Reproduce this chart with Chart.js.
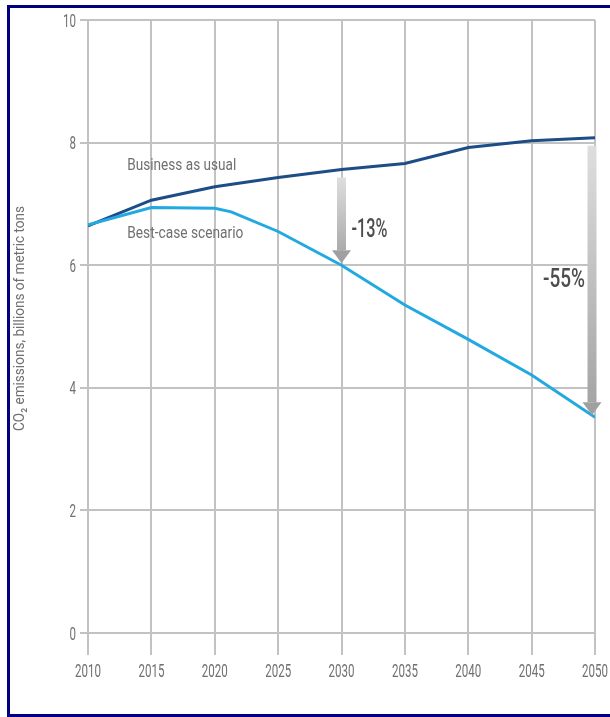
<!DOCTYPE html>
<html>
<head>
<meta charset="utf-8">
<title>CO2 emissions scenarios</title>
<script src="https://cdn.jsdelivr.net/npm/chart.js@4.4.0/dist/chart.umd.min.js"></script>
<style>
  html, body { margin: 0; padding: 0; background: #fff; }
  #wrap { position: relative; width: 610px; height: 717px; overflow: hidden; background: #fff; }
  #wrap canvas { position: absolute; left: 0; top: 0; }
  #frame {
    position: absolute; left: 7px; top: 5px; right: 0; bottom: 0;
    border-left: 3px solid #000080; border-top: 3px solid #000080; border-bottom: 3px solid #000080;
    pointer-events: none;
  }
</style>
</head>
<body>
<div id="wrap">
  <canvas id="chart" width="610" height="717"></canvas>
  <div id="frame"></div>
</div>
<script>
// Emissions in billions of metric tons of CO2
const years = [2010, 2015, 2020, 2025, 2030, 2035, 2040, 2045, 2050];
const businessAsUsual = [6.64, 7.06, 7.28, 7.43, 7.56, 7.66, 7.92, 8.03, 8.08];
const bestCaseYears = [2010, 2015, 2020, 2021.3, 2025, 2030, 2035, 2040, 2045, 2050];
const bestCase = [6.66, 6.94, 6.93, 6.87, 6.55, 6.0, 5.35, 4.79, 4.21, 3.52];
const yearTicks = [2010, 2015, 2020, 2025, 2030, 2035, 2040, 2045, 2050];
const emissionTicks = [0, 2, 4, 6, 8, 10];
const seriesNames = ['Business as usual', 'Best-case scenario'];
const reductionYears = [2030, 2050];
const reductionLabels = ['-13%', '-55%'];
const axisTitle = 'CO\u2082 emissions, billions of metric tons';

// Narrow grotesque look: Roboto squeezed with fillText's maxWidth
const FONT = "Roboto, 'DejaVu Sans Condensed', sans-serif";
const DIGIT_W = 6.5;
const DARK_BLUE = '#1d4d86';
const LIGHT_BLUE = '#22a9e2';
const GRID = '#c2c2c2';
const TEXT = '#707070';

function toPoints(xs, ys) {
  return xs.map((x, i) => ({ x: x, y: ys[i] }));
}

function narrowText(ctx, text, x, y, maxW) {
  ctx.fillText(text, x, y, maxW);
}

function drawArrow(ctx, cx, top, tip) {
  const shaftHalf = 4.5, headHalf = 9.5, headLen = 13;
  const headTop = tip - headLen;
  const g = ctx.createLinearGradient(0, top, 0, tip);
  g.addColorStop(0, '#dedede');
  g.addColorStop(1, '#a2a2a2');
  ctx.fillStyle = g;
  ctx.fillRect(cx - shaftHalf, top, shaftHalf * 2, headTop - top);
  ctx.beginPath();
  ctx.moveTo(cx - headHalf, headTop);
  ctx.lineTo(cx + headHalf, headTop);
  ctx.lineTo(cx, tip);
  ctx.closePath();
  ctx.fillStyle = '#a0a0a0';
  ctx.fill();
}

// Axis labels drawn condensed at the scales' own tick positions
const axisText = {
  id: 'axisText',
  afterDraw(chart) {
    const { ctx } = chart;
    const xs = chart.scales.x, ys = chart.scales.y;
    ctx.save();
    ctx.fillStyle = TEXT;
    ctx.textBaseline = 'alphabetic';

    ctx.font = '19px ' + FONT;
    ctx.textAlign = 'center';
    xs.ticks.forEach(t => {
      const s = String(t.value);
      narrowText(ctx, s, xs.getPixelForValue(t.value), xs.top + 44, DIGIT_W * s.length);
    });

    ctx.font = '18px ' + FONT;
    ctx.textAlign = 'right';
    ys.ticks.forEach(t => {
      const s = String(t.value);
      narrowText(ctx, s, ys.right - 12, ys.getPixelForValue(t.value) + 6.5, DIGIT_W * s.length);
    });

    ctx.translate(20, (ys.top + ys.bottom) / 2 - 8);
    ctx.rotate(-Math.PI / 2);
    ctx.font = '15px ' + FONT;
    ctx.textAlign = 'center';
    ctx.textBaseline = 'middle';
    narrowText(ctx, axisTitle, 0, 0, 225);
    ctx.restore();
  }
};

// Series names, reduction arrows and their percentages
const annotations = {
  id: 'annotations',
  afterDatasetsDraw(chart) {
    const { ctx } = chart;
    const xs = chart.scales.x, ys = chart.scales.y;
    ctx.save();
    ctx.font = '17px ' + FONT;
    ctx.fillStyle = TEXT;
    ctx.textAlign = 'left';
    ctx.textBaseline = 'alphabetic';
    narrowText(ctx, seriesNames[0], xs.getPixelForValue(2013.1), ys.getPixelForValue(7.55), 109);
    narrowText(ctx, seriesNames[1], xs.getPixelForValue(2013.1), ys.getPixelForValue(6.45), 116);

    reductionYears.forEach((yr, i) => {
      const top = ys.getPixelForValue(businessAsUsual[years.indexOf(yr)]) + 8;
      const tip = ys.getPixelForValue(bestCase[bestCaseYears.indexOf(yr)]) - 2;
      const last = yr === xs.max;
      const cx = xs.getPixelForValue(yr) - (last ? 3 : 0);
      drawArrow(ctx, cx, top, tip);
      ctx.font = '500 25px ' + FONT;
      ctx.fillStyle = '#4d4d4d';
      ctx.textBaseline = 'alphabetic';
      if (last) {
        ctx.textAlign = 'right';
        narrowText(ctx, reductionLabels[i], cx - 7, (top + tip) / 2 + 7, 42);
      } else {
        ctx.textAlign = 'left';
        narrowText(ctx, reductionLabels[i], cx + 10, (top + tip) / 2 + 17, 36);
      }
    });
    ctx.restore();
  }
};

new Chart(document.getElementById('chart'), {
  type: 'line',
  data: {
    datasets: [
      {
        label: seriesNames[1],
        data: toPoints(bestCaseYears, bestCase),
        borderColor: LIGHT_BLUE,
        borderWidth: 3,
        pointRadius: 0,
        tension: 0,
        fill: false,
        order: 0
      },
      {
        label: seriesNames[0],
        data: toPoints(years, businessAsUsual),
        borderColor: DARK_BLUE,
        borderWidth: 3,
        pointRadius: 0,
        tension: 0,
        fill: false,
        order: 1
      }
    ]
  },
  options: {
    responsive: false,
    animation: false,
    devicePixelRatio: 1,
    layout: { padding: { left: 10, right: 15, top: 20, bottom: 0 } },
    plugins: { legend: { display: false }, tooltip: { enabled: false } },
    scales: {
      x: {
        type: 'linear',
        min: yearTicks[0],
        max: yearTicks[yearTicks.length - 1],
        afterBuildTicks: (scale) => { scale.ticks = yearTicks.map(v => ({ value: v })); },
        afterFit: (scale) => { scale.height = 84; scale.paddingLeft = 0; scale.paddingRight = 0; },
        ticks: { display: false },
        grid: { color: GRID, lineWidth: 2, tickLength: 22, drawTicks: true },
        border: { display: true, color: GRID, width: 2 }
      },
      y: {
        type: 'linear',
        min: emissionTicks[0],
        max: emissionTicks[emissionTicks.length - 1],
        afterBuildTicks: (scale) => { scale.ticks = emissionTicks.map(v => ({ value: v })); },
        afterFit: (scale) => { scale.width = 78; scale.paddingTop = 0; scale.paddingBottom = 0; },
        ticks: { display: false },
        grid: { color: GRID, lineWidth: 2, tickLength: 8, drawTicks: true },
        border: { display: true, color: GRID, width: 2 }
      }
    }
  },
  plugins: [annotations, axisText]
});
</script>
</body>
</html>
